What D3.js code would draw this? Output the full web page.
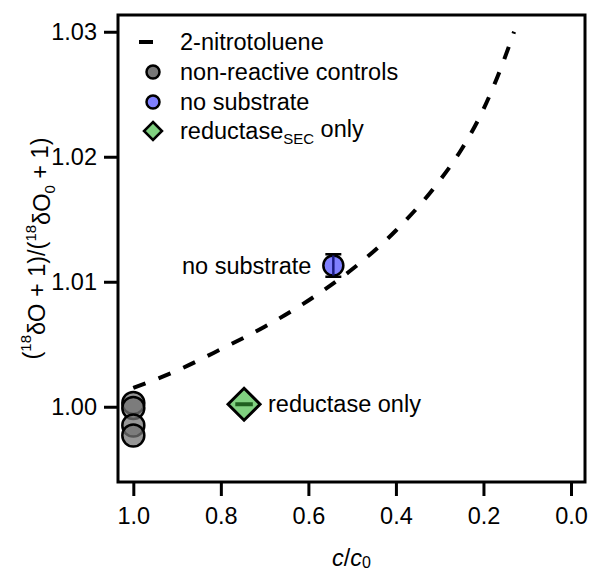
<!DOCTYPE html>
<html>
<head>
<meta charset="utf-8">
<script src="https://cdn.jsdelivr.net/npm/d3@7/dist/d3.min.js"></script>
<style>
  body { margin: 0; background: #fff; }
  text { font-family: "Liberation Sans", Arial, Helvetica, sans-serif; fill: #000; }
</style>
</head>
<body>
<div id="chart"></div>
<script>
// model line
const curveF = [1.0, 0.9, 0.8, 0.7, 0.6, 0.5, 0.4, 0.3, 0.25, 0.2, 0.16, 0.13];
const curveR = [1.0015, 1.0029, 1.0046, 1.0064, 1.0085, 1.0110, 1.0141, 1.0181, 1.0206, 1.0238, 1.0271, 1.0300];

// non-reactive controls
const ctrlF = [1.0, 1.0, 1.0, 1.0];
const ctrlR = [1.0003, 0.9999, 0.9985, 0.9977];

// no substrate
const noSubF = [0.543];
const noSubR = [1.0113];
const noSubErr = [0.0009];

// reductase only
const redF = [0.747];
const redR = [1.0002];
const redErrF = [0.02];

const xTicks = [1.0, 0.8, 0.6, 0.4, 0.2, 0.0];
const yTicks = [1.00, 1.01, 1.02, 1.03];

const width = 589, height = 572;
const mLeft = 118, mTop = 15, w = 467, h = 467;
const fs = 23.5;

const svg = d3.select("#chart")
    .append("svg")
    .attr("width", width)
    .attr("height", height);

const x = d3.scaleLinear().domain([1.035, -0.032]).range([mLeft, mLeft + w]);
const y = d3.scaleLinear().domain([0.99398, 1.03134]).range([mTop + h, mTop]);

// axes
const xAxis = svg.append("g")
    .attr("transform", `translate(0,${mTop + h})`)
    .call(d3.axisBottom(x).tickValues(xTicks).tickFormat(d3.format(".1f")).tickSize(14).tickPadding(11));
const yAxis = svg.append("g")
    .attr("transform", `translate(${mLeft},0)`)
    .call(d3.axisLeft(y).tickValues(yTicks).tickFormat(d3.format(".2f")).tickSize(14).tickPadding(7));

[xAxis, yAxis].forEach(g => {
    g.select(".domain").remove();
    g.selectAll(".tick line").attr("stroke", "#000").attr("stroke-width", 3);
    g.selectAll(".tick text").attr("font-size", fs).attr("font-family", null);
});

// frame
svg.append("rect")
    .attr("x", mLeft).attr("y", mTop)
    .attr("width", w).attr("height", h)
    .attr("fill", "none")
    .attr("stroke", "#000")
    .attr("stroke-width", 3);

const plot = svg.append("g");

// dashed curve
const line = d3.line()
    .x(d => x(d[0]))
    .y(d => y(d[1]))
    .curve(d3.curveMonotoneX);

plot.append("path")
    .datum(curveF.map((f, i) => [f, curveR[i]]))
    .attr("d", line)
    .attr("fill", "none")
    .attr("stroke", "#000")
    .attr("stroke-width", 4)
    .attr("stroke-dasharray", "13,14");

// controls
plot.selectAll(".ctrl")
    .data(ctrlF.map((f, i) => [f, ctrlR[i]]))
    .enter()
    .append("circle")
    .attr("cx", d => x(d[0]))
    .attr("cy", d => y(d[1]))
    .attr("r", 11)
    .attr("fill", "rgba(115,115,115,0.75)")
    .attr("stroke", "#000")
    .attr("stroke-width", 2.5);

// no substrate
noSubF.forEach((f, i) => {
    const cx = x(f), cy = y(noSubR[i]);
    plot.append("circle")
        .attr("cx", cx).attr("cy", cy).attr("r", 10)
        .attr("fill", "#8080ff")
        .attr("stroke", "#000")
        .attr("stroke-width", 2.5);
    const y1 = y(noSubR[i] + noSubErr[i]), y2 = y(noSubR[i] - noSubErr[i]);
    plot.append("line")
        .attr("x1", cx).attr("x2", cx).attr("y1", y1).attr("y2", y2)
        .attr("stroke", "#1a1a80").attr("stroke-width", 2.5);
    [y1, y2].forEach(yy => plot.append("line")
        .attr("x1", cx - 8).attr("x2", cx + 8).attr("y1", yy).attr("y2", yy)
        .attr("stroke", "#000").attr("stroke-width", 2.5));
});

// reductase only
redF.forEach((f, i) => {
    const cx = x(f), cy = y(redR[i]);
    plot.append("path")
        .attr("transform", `translate(${cx},${cy})`)
        .attr("d", "M0,-16L16,0L0,16L-16,0Z")
        .attr("fill", "#80d080")
        .attr("stroke", "#000")
        .attr("stroke-width", 3);
    plot.append("line")
        .attr("x1", x(f + redErrF[i])).attr("x2", x(f - redErrF[i]))
        .attr("y1", cy).attr("y2", cy)
        .attr("stroke", "#1f5f1f").attr("stroke-width", 4);
});

// annotations
plot.append("text")
    .attr("x", x(noSubF[0]) - 22).attr("y", y(noSubR[0]))
    .attr("dy", "0.35em")
    .attr("text-anchor", "end")
    .attr("font-size", fs)
    .text("no substrate");
plot.append("text")
    .attr("x", x(redF[0]) + 24).attr("y", y(redR[0]))
    .attr("dy", "0.35em")
    .attr("font-size", fs)
    .text("reductase only");

// legend
const legend = svg.append("g").attr("transform", "translate(155,0)");
const rows = [42, 72, 102, 131];
legend.append("line")
    .attr("x1", -16).attr("x2", -2).attr("y1", rows[0]).attr("y2", rows[0])
    .attr("stroke", "#000").attr("stroke-width", 4);
legend.append("circle")
    .attr("cx", -2).attr("cy", rows[1]).attr("r", 6.5)
    .attr("fill", "#777").attr("stroke", "#000").attr("stroke-width", 2.5);
legend.append("circle")
    .attr("cx", -2).attr("cy", rows[2]).attr("r", 6.5)
    .attr("fill", "#8080ff").attr("stroke", "#000").attr("stroke-width", 2.5);
legend.append("path")
    .attr("transform", `translate(-2,${rows[3]})`)
    .attr("d", "M0,-9L9,0L0,9L-9,0Z")
    .attr("fill", "#80d080").attr("stroke", "#000").attr("stroke-width", 2.5);

const lx = 25;
legend.append("text").attr("x", lx).attr("y", rows[0]).attr("dy", "0.35em").attr("font-size", fs).text("2-nitrotoluene");
legend.append("text").attr("x", lx).attr("y", rows[1]).attr("dy", "0.35em").attr("font-size", fs).text("non-reactive controls");
legend.append("text").attr("x", lx).attr("y", rows[2]).attr("dy", "0.35em").attr("font-size", fs).text("no substrate");
const t4 = legend.append("text").attr("x", lx).attr("y", rows[3]).attr("dy", "0.35em").attr("font-size", fs);
t4.append("tspan").text("reductase");
t4.append("tspan").attr("font-size", 15).attr("dy", "0.3em").text("SEC");
t4.append("tspan").attr("dy", "-0.3em").text(" only");

// axis titles
const xt = svg.append("text")
    .attr("x", mLeft + w / 2).attr("y", 566)
    .attr("text-anchor", "middle")
    .attr("font-size", fs);
xt.append("tspan").attr("font-style", "italic").text("c");
xt.append("tspan").text("/");
xt.append("tspan").attr("font-style", "italic").text("c");
xt.append("tspan").attr("font-size", 16).attr("dy", "0.15em").text("0");

const yt = svg.append("text")
    .attr("transform", `translate(40,${mTop + h / 2}) rotate(-90)`)
    .attr("text-anchor", "middle")
    .attr("font-size", fs);
yt.append("tspan").text("(");
yt.append("tspan").attr("font-size", 15).attr("dy", "-0.6em").text("18");
yt.append("tspan").attr("dy", "0.6em").text("δO + 1)/(");
yt.append("tspan").attr("font-size", 15).attr("dy", "-0.6em").text("18");
yt.append("tspan").attr("dy", "0.6em").text("δO");
yt.append("tspan").attr("font-size", 15).attr("dy", "0.3em").text("0");
yt.append("tspan").attr("dy", "-0.3em").text(" + 1)");
</script>
</body>
</html>
